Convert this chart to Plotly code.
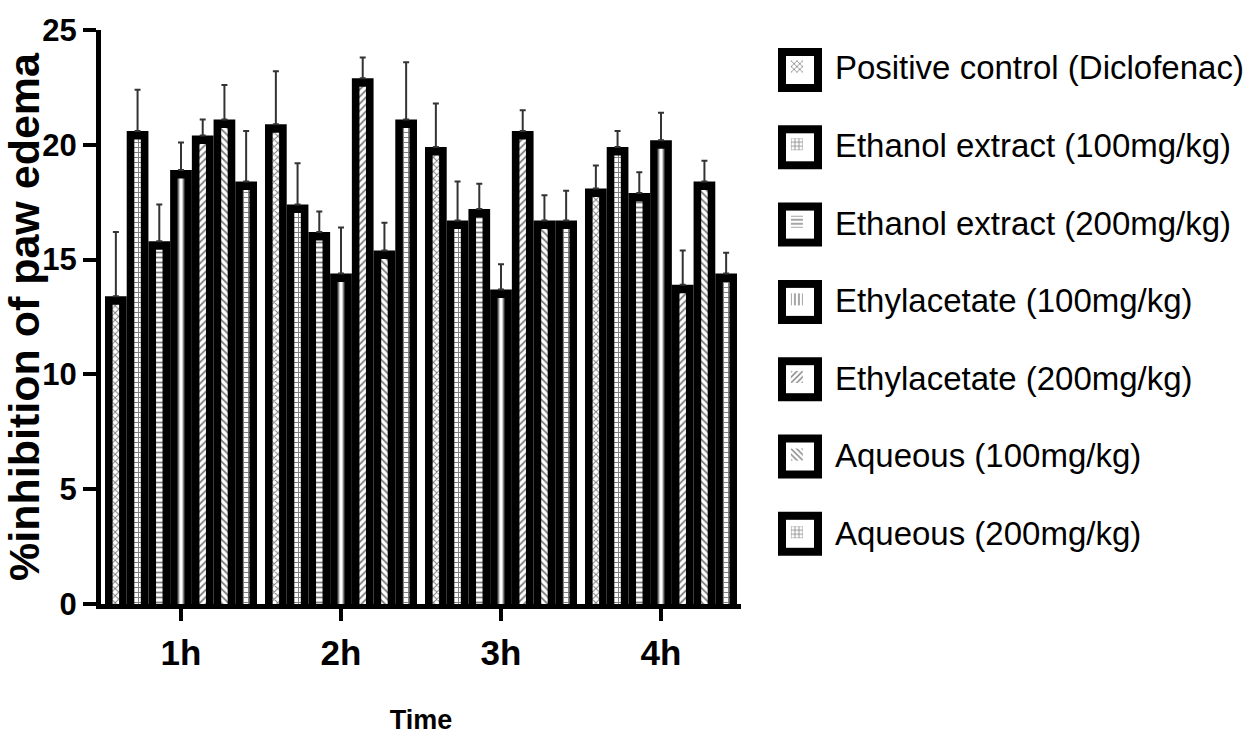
import plotly.graph_objects as go

times = ["1h", "2h", "3h", "4h"]

series_names = [
    "Positive control (Diclofenac)",
    "Ethanol extract (100mg/kg)",
    "Ethanol extract (200mg/kg)",
    "Ethylacetate (100mg/kg)",
    "Ethylacetate (200mg/kg)",
    "Aqueous (100mg/kg)",
    "Aqueous (200mg/kg)",
]

positive_control = [13.4, 20.9, 19.9, 18.1]
ethanol_100 = [20.6, 17.4, 16.7, 19.9]
ethanol_200 = [15.8, 16.2, 17.2, 17.9]
ethylacetate_100 = [18.9, 14.4, 13.7, 20.2]
ethylacetate_200 = [20.4, 22.9, 20.6, 13.9]
aqueous_100 = [21.1, 15.4, 16.7, 18.4]
aqueous_200 = [18.4, 21.1, 16.7, 14.4]

positive_control_sd = [2.8, 2.3, 1.9, 1.0]
ethanol_100_sd = [1.8, 1.8, 1.7, 0.7]
ethanol_200_sd = [1.6, 0.9, 1.1, 0.9]
ethylacetate_100_sd = [1.2, 2.0, 1.1, 1.2]
ethylacetate_200_sd = [0.7, 0.9, 0.9, 1.5]
aqueous_100_sd = [1.5, 1.2, 1.1, 0.9]
aqueous_200_sd = [2.2, 2.5, 1.3, 0.9]

y_ticks = [0, 5, 10, 15, 20, 25]

values = [positive_control, ethanol_100, ethanol_200, ethylacetate_100,
          ethylacetate_200, aqueous_100, aqueous_200]
sds = [positive_control_sd, ethanol_100_sd, ethanol_200_sd, ethylacetate_100_sd,
       ethylacetate_200_sd, aqueous_100_sd, aqueous_200_sd]
patterns = ["x", "+", "-", "|", "/", "\\", "+"]

# layout geometry (pixels)
W, H = 1254, 740
ML, MR, MT, MB = 101, 513, 30, 136
plot_w = W - ML - MR
plot_h = H - MT - MB
px_per_unit = plot_h / 25.0
inset = 8.5 / px_per_unit          # black border thickness at the top of each bar
inner_width = 6.5 / 160.0          # width of inner patterned stripe (category units)

SANS = "Liberation Sans, Arial, sans-serif"

fig = go.Figure()
for i, (name, vals, sd, pat) in enumerate(zip(series_names, values, sds, patterns)):
    fig.add_trace(go.Bar(
        x=times, y=vals, name=name, offsetgroup=str(i), showlegend=False,
        marker=dict(color="black", line=dict(width=0)),
        error_y=dict(type="data", symmetric=False, array=sd, arrayminus=[0] * len(sd),
                     color="#333333", thickness=2, width=3),
        hoverinfo="skip",
    ))
    fig.add_trace(go.Bar(
        x=times, y=[v - inset for v in vals], name=name, offsetgroup=str(i),
        legendgroup=str(i), width=inner_width,
        marker=dict(color="white", line=dict(color="black", width=0),
                    pattern=dict(shape=pat, fgcolor="black", bgcolor="white",
                                 size=5, solidity=0.35)),
    ))

# enlarged legend swatches (black frame + white inner), legend symbol sits on top
legend_x_px = 800
legend_row0_px = 70
legend_row_step = 77.3
shapes = []
for k in range(len(series_names)):
    cy = legend_row0_px + k * legend_row_step
    for half, col in ((22, "black"), (14, "white")):
        shapes.append(dict(
            type="rect", xref="paper", yref="paper", layer="above",
            x0=(legend_x_px - half - ML) / plot_w, x1=(legend_x_px + half - ML) / plot_w,
            y0=((H - MB) - (cy + half)) / plot_h, y1=((H - MB) - (cy - half)) / plot_h,
            fillcolor=col, line=dict(width=0),
        ))

fig.update_layout(
    width=W, height=H,
    margin=dict(l=ML, r=MR, t=MT, b=MB, autoexpand=False),
    barmode="group", bargap=0.05, bargroupgap=0,
    plot_bgcolor="white", paper_bgcolor="white",
    shapes=shapes,
    legend=dict(x=1.028, xanchor="left", y=0.985, yanchor="top",
                font=dict(family=SANS, size=33, color="black"),
                itemwidth=66, tracegroupgap=31.7, bgcolor="rgba(0,0,0,0)"),
    xaxis=dict(
        range=[-0.5, 3.5], showline=True, linecolor="black", linewidth=5,
        ticks="outside", ticklen=12, tickwidth=4, tickcolor="black",
        tickfont=dict(family=SANS, size=35, color="black", weight="bold"),
        ticklabelstandoff=2, automargin=False,
        title=dict(text="Time", font=dict(family=SANS, size=27, color="black", weight="bold"),
                   standoff=41),
        showgrid=False, zeroline=False,
    ),
    yaxis=dict(
        range=[0, 25], tickvals=y_ticks, showline=True, linecolor="black", linewidth=5,
        ticks="outside", ticklen=13, tickwidth=4, tickcolor="black",
        tickfont=dict(family=SANS, size=31, color="black", weight="bold"),
        automargin=False,
        title=dict(text="%inhibition of paw edema",
                   font=dict(family=SANS, size=43, color="black", weight="bold"),
                   standoff=24),
        showgrid=False, zeroline=False,
    ),
)

fig.write_html("out.html")
